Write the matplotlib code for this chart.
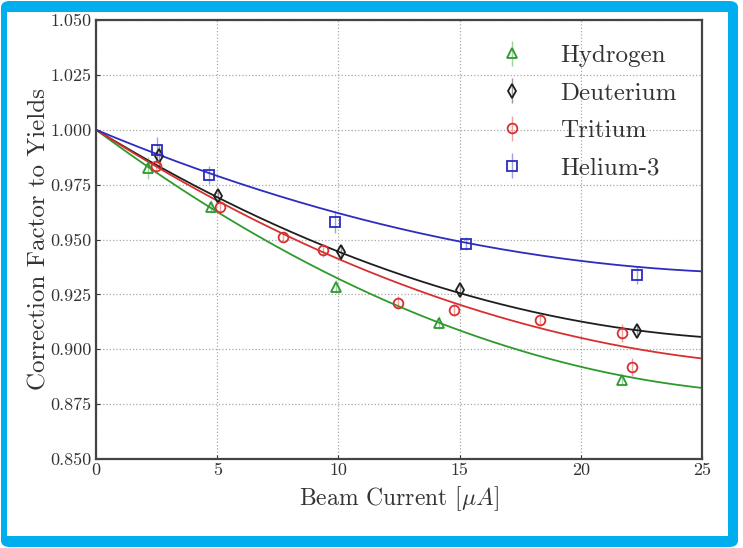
import matplotlib
matplotlib.use("Agg")
import matplotlib.pyplot as plt
import numpy as np
from matplotlib.patches import FancyBboxPatch, Rectangle
from matplotlib.ticker import FormatStrFormatter

plt.rcParams["font.family"] = "cmr10"
plt.rcParams["mathtext.fontset"] = "cm"
plt.rcParams["axes.formatter.use_mathtext"] = True

# Measured correction factors vs beam current
h_x = [2.14, 4.75, 9.90, 14.16, 21.69]
h_y = [0.9826, 0.9650, 0.9284, 0.9121, 0.8862]
h_err = [0.005, 0.003, 0.003, 0.003, 0.002]

d_x = [2.60, 5.03, 10.11, 15.03, 22.30]
d_y = [0.9882, 0.9697, 0.9443, 0.9268, 0.9084]
d_err = [0.005, 0.003, 0.003, 0.003, 0.003]

t_x = [2.46, 5.12, 7.70, 9.35, 12.47, 14.75, 18.31, 21.69, 22.13]
t_y = [0.9834, 0.9647, 0.9512, 0.9450, 0.9212, 0.9180, 0.9135, 0.9075, 0.8920]
t_err = [0.003, 0.003, 0.002, 0.003, 0.003, 0.003, 0.003, 0.004, 0.004]

he_x = [2.51, 4.66, 9.88, 15.26, 22.33]
he_y = [0.9909, 0.9795, 0.9579, 0.9480, 0.9336]
he_err = [0.006, 0.004, 0.005, 0.003, 0.004]

# Quadratic fit coefficients: f(I) = 1 + b*I + c*I^2
h_fit = (-0.008177, 1.389e-4)
d_fit = (-0.006736, 1.184e-4)
t_fit = (-0.007031, 1.145e-4)
he_fit = (-0.004613, 8.13e-5)

x_ticks = [0, 5, 10, 15, 20, 25]
y_ticks = [0.850, 0.875, 0.900, 0.925, 0.950, 0.975, 1.000, 1.025, 1.050]

series = [
    ("Hydrogen", h_x, h_y, h_err, h_fit, "#2e9a2e", "^"),
    ("Deuterium", d_x, d_y, d_err, d_fit, "#1e1e1e", "d"),
    ("Tritium", t_x, t_y, t_err, t_fit, "#d83030", "o"),
    ("Helium-3", he_x, he_y, he_err, he_fit, "#2c2cc0", "s"),
]

fig = plt.figure(figsize=(7.43, 5.48), dpi=100)

# Blue rounded frame
W, H = 743.0, 548.0
frame = FancyBboxPatch((1 / W, 1 / H), 737 / W, 546 / H,
                       boxstyle="round,pad=0,rounding_size=0.012",
                       transform=fig.transFigure, facecolor="#00aeef",
                       edgecolor="none", zorder=-10)
fig.patches.append(frame)
inner = Rectangle((7 / W, 12 / H), 721 / W, 524 / H, transform=fig.transFigure,
                  facecolor="white", edgecolor="none", zorder=-9)
fig.patches.append(inner)

ax = fig.add_axes([96 / W, 1 - 459 / H, 606 / W, 439 / H])
ax.set_facecolor("white")

xs = np.linspace(0, 25, 300)
for name, x, y, e, (b, c), col, mk in series:
    ax.plot(xs, 1 + b * xs + c * xs ** 2, color=col, lw=1.3, zorder=2)
    ax.errorbar(x, y, yerr=e, fmt=mk, mfc="none", mec=col, mew=1.3,
                ms=7, ecolor=col, elinewidth=1.0,
                capsize=0, label=name, zorder=3)

# lighten error bars
for cont in ax.containers:
    for lc in cont[2]:
        lc.set_alpha(0.45)

ax.set_xlim(0, 25)
ax.set_ylim(0.85, 1.05)
ax.set_xticks(x_ticks)
ax.set_yticks(y_ticks)
ax.yaxis.set_major_formatter(FormatStrFormatter("%.3f"))
ax.xaxis.set_major_formatter(FormatStrFormatter("%d"))
ax.tick_params(axis="both", direction="in", length=3, width=0.8,
               labelsize=13, pad=3, colors="#333333", labelcolor="#333333")
ax.grid(True, color="#a8a8a8", linestyle=":", linewidth=0.9)
for s in ax.spines.values():
    s.set_color("#444444")
    s.set_linewidth(1.6)

ax.set_xlabel(r"Beam Current [$\mu A$]", fontsize=17, color="#333333", labelpad=4)
ax.set_ylabel("Correction Factor to Yields", fontsize=18, color="#333333", labelpad=0)

leg = ax.legend(loc="upper right", frameon=False, fontsize=18, handlelength=1.0,
                handletextpad=1.42, labelspacing=0.6, borderaxespad=0.5,
                bbox_to_anchor=(0.995, 0.995))
for t in leg.get_texts():
    t.set_color("#333333")

fig.savefig("out.png", dpi=100)
